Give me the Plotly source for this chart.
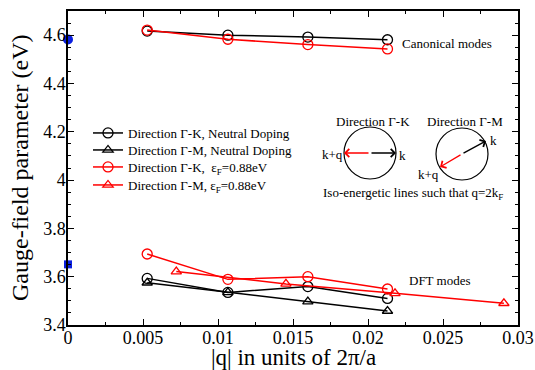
import plotly.graph_objects as go

# ---- data ----
q_gk = [0.00528, 0.01066, 0.01599, 0.0213]
q_gm_neutral = [0.00528, 0.01066, 0.01599, 0.0213]
q_gm_doped = [0.00722, 0.01453, 0.0218, 0.02906]

canon_gk_neutral = [4.617, 4.600, 4.592, 4.581]
canon_gk_doped = [4.621, 4.583, 4.561, 4.543]

dft_gk_neutral = [3.593, 3.535, 3.559, 3.510]
dft_gm_neutral = [3.575, 3.535, 3.497, 3.458]
dft_gk_doped = [3.694, 3.589, 3.600, 3.549]
dft_gm_doped = [3.621, 3.570, 3.531, 3.490]

ref_q = [0.0]
ref_canon = [4.582]
ref_dft = [3.651]

x_ticks = [0, 0.005, 0.01, 0.015, 0.02, 0.025, 0.03]
x_tick_text = ["0", "0.005", "0.01", "0.015", "0.02", "0.025", "0.03"]
y_ticks = [3.4, 3.6, 3.8, 4.0, 4.2, 4.4, 4.6]
y_tick_text = ["3.4", "3.6", "3.8", "4", "4.2", "4.4", "4.6"]

FONT = "Liberation Serif"
L, R, T, B = 68, 17, 11, 45
W, H = 535, 370
PW, PH = W - L - R, H - T - B


def px(xp):
    return (xp - L) / PW


def py(yp):
    return (H - B - yp) / PH


fig = go.Figure()

line_black = dict(color="black", width=1.5)
line_red = dict(color="red", width=1.5)
circ_k = dict(symbol="circle-open", size=10, color="black", line=dict(width=1.3))
circ_r = dict(symbol="circle-open", size=10, color="red", line=dict(width=1.3))
tri_k = dict(symbol="triangle-up-open", size=9, color="black", line=dict(width=1.3))
tri_r = dict(symbol="triangle-up-open", size=9, color="red", line=dict(width=1.3))

# legend entries (DFT curves), each in its own legend box for exact row spacing
fig.add_trace(go.Scatter(x=q_gk, y=dft_gk_neutral, mode="lines+markers", line=line_black,
                         marker=circ_k, name="Direction Γ-K, Neutral Doping", legend="legend"))
fig.add_trace(go.Scatter(x=q_gm_neutral, y=dft_gm_neutral, mode="lines+markers", line=line_black,
                         marker=tri_k, name="Direction Γ-M, Neutral Doping", legend="legend2"))
fig.add_trace(go.Scatter(x=q_gk, y=dft_gk_doped, mode="lines+markers", line=line_red,
                         marker=circ_r, name="Direction Γ-K,  ε<sub>F</sub>=0.88eV", legend="legend3"))
fig.add_trace(go.Scatter(x=q_gm_doped, y=dft_gm_doped, mode="lines+markers", line=line_red,
                         marker=tri_r, name="Direction Γ-M, ε<sub>F</sub>=0.88eV", legend="legend4"))
# canonical modes
fig.add_trace(go.Scatter(x=q_gk, y=canon_gk_neutral, mode="lines+markers", line=line_black,
                         marker=circ_k, showlegend=False))
fig.add_trace(go.Scatter(x=q_gk, y=canon_gk_doped, mode="lines+markers", line=line_red,
                         marker=circ_r, showlegend=False))
# reference points at q=0
fig.add_trace(go.Scatter(x=ref_q, y=ref_canon, mode="markers", cliponaxis=False,
                         marker=dict(symbol="circle", size=10, color="#0a1fe0"), showlegend=False))
fig.add_trace(go.Scatter(x=ref_q, y=ref_dft, mode="markers", cliponaxis=False,
                         marker=dict(symbol="square", size=8, color="#0a1fe0"), showlegend=False))

axis_common = dict(showline=True, linecolor="black", linewidth=1.5, mirror="allticks",
                   ticks="inside", ticklen=6, tickwidth=1, tickcolor="black",
                   showgrid=False, zeroline=False, automargin=False,
                   tickfont=dict(family=FONT, size=18, color="black"))

fig.update_xaxes(range=[0, 0.03], tickvals=x_ticks, ticktext=x_tick_text,
                 minor=dict(ticks="inside", ticklen=3, dtick=0.0025, tick0=0, tickcolor="black"),
                 ticklabelstandoff=-4,
                 **axis_common)
fig.update_yaxes(range=[3.4, 4.7], tickvals=y_ticks, ticktext=y_tick_text,
                 minor=dict(ticks="inside", ticklen=3, dtick=0.05, tick0=3.4, tickcolor="black"),
                 ticklabelstandoff=-3,
                 **axis_common)

# axis titles
fig.add_annotation(xref="paper", yref="paper", x=px(293), y=py(357), text="|q| in units of 2π/a",
                   showarrow=False, xanchor="center", yanchor="middle",
                   font=dict(family=FONT, size=23, color="black"))
fig.add_annotation(xref="paper", yref="paper", x=px(20), y=py(168), text="Gauge-field parameter (eV)",
                   showarrow=False, xanchor="center", yanchor="middle", textangle=-90,
                   font=dict(family=FONT, size=24, color="black"))

ann_font = dict(family=FONT, size=13, color="black")
annotations = [
    dict(x=px(447), y=py(44), text="Canonical modes"),
    dict(x=px(440), y=py(280), text="DFT modes"),
    dict(x=px(373), y=py(121), text="Direction Γ-K"),
    dict(x=px(465), y=py(121), text="Direction Γ-M"),
    dict(x=px(332), y=py(154), text="k+q"),
    dict(x=px(402), y=py(155), text="k"),
    dict(x=px(493), y=py(140), text="k"),
    dict(x=px(428), y=py(174), text="k+q"),
    dict(x=px(413), y=py(193), text="Iso-energetic lines such that q=2k<sub>F</sub>"),
]
for a in annotations:
    fig.add_annotation(xref="paper", yref="paper", showarrow=False, font=ann_font,
                       xanchor="center", yanchor="middle", **a)

# arrows in inset
arrows = [
    (396, 153, 370, 153, "black"),
    (344, 153, 370, 153, "red"),
    (486, 141, 462, 154, "black"),
    (440, 167, 462, 154, "red"),
]
for hx, hy, tx, ty, c in arrows:
    fig.add_annotation(xref="paper", yref="paper", x=px(hx), y=py(hy), ax=tx - hx, ay=ty - hy,
                       showarrow=True, arrowhead=4, arrowsize=1.2, arrowwidth=1.3, arrowcolor=c, text="")

# circles
for cx, cy in [(370, 153), (462, 154)]:
    r = 26
    fig.add_shape(type="circle", xref="paper", yref="paper",
                  x0=px(cx - r), x1=px(cx + r), y0=py(cy + r), y1=py(cy - r),
                  line=dict(color="black", width=1.2))

legend_style = dict(xanchor="left", yanchor="middle", bgcolor="rgba(0,0,0,0)",
                    font=dict(family=FONT, size=13, color="black"), itemwidth=30)
fig.update_layout(
    width=W, height=H,
    margin=dict(l=L, r=R, t=T, b=B),
    paper_bgcolor="white", plot_bgcolor="white",
    font=dict(family=FONT, color="black"),
    legend=dict(x=px(88), y=py(133), **legend_style),
    legend2=dict(x=px(88), y=py(150), **legend_style),
    legend3=dict(x=px(88), y=py(167), **legend_style),
    legend4=dict(x=px(88), y=py(185), **legend_style),
)

fig.write_html("out.html", config={"displayModeBar": False},
               post_script="document.body.style.margin='0';")
